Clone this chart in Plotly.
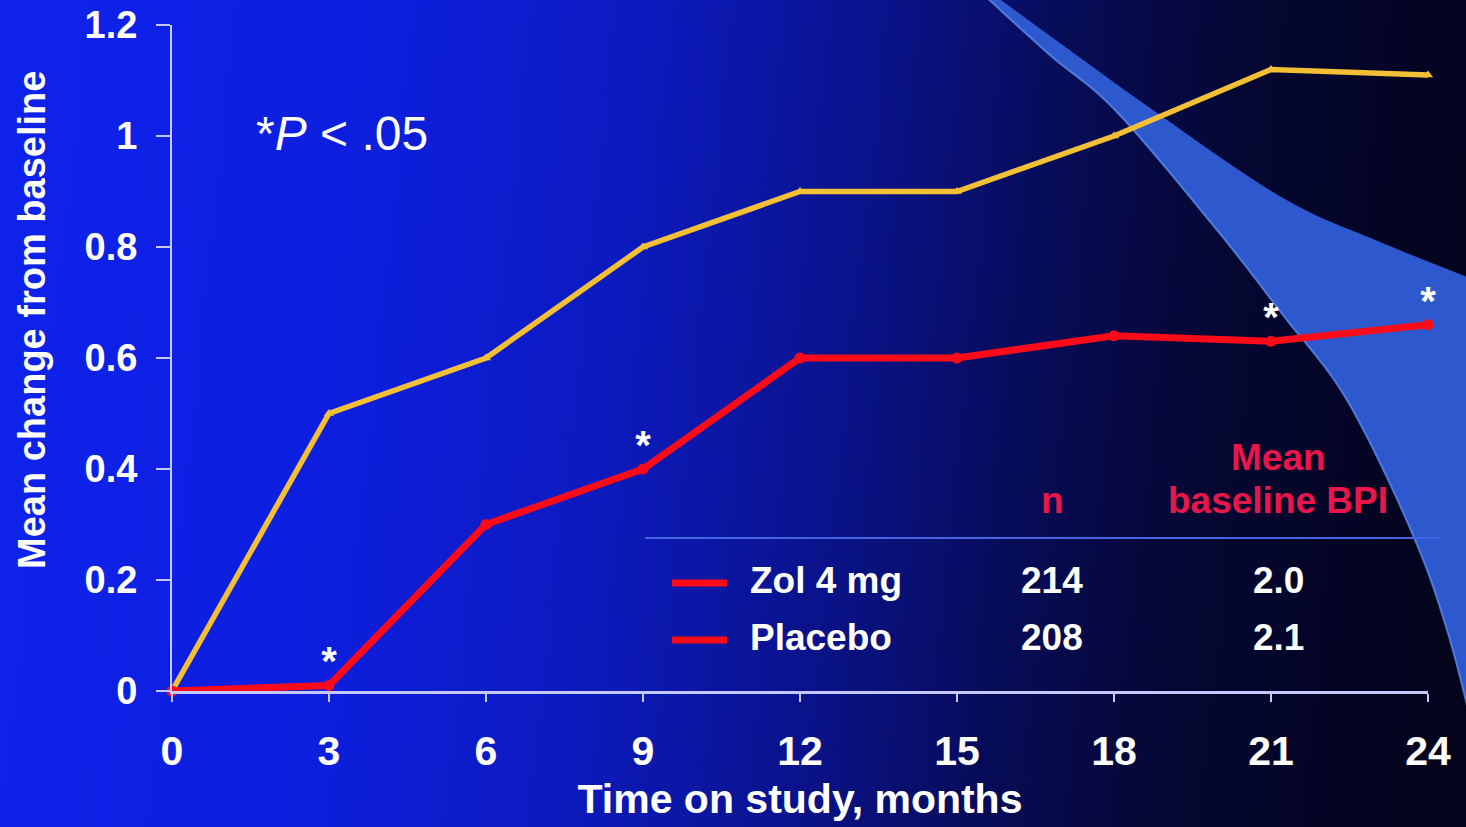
import base64
import struct
import zlib

import plotly.graph_objects as go

# ---- data -----------------------------------------------------------------
months = [0, 3, 6, 9, 12, 15, 18, 21, 24]
zol_4mg = [0.0, 0.01, 0.30, 0.40, 0.60, 0.60, 0.64, 0.63, 0.66]
placebo = [0.0, 0.50, 0.60, 0.80, 0.90, 0.90, 1.00, 1.12, 1.11]
significant_months = [3, 9, 21, 24]

x_ticks = [0, 3, 6, 9, 12, 15, 18, 21, 24]
y_ticks = [0, 0.2, 0.4, 0.6, 0.8, 1.0, 1.2]
y_tick_text = ["0", "0.2", "0.4", "0.6", "0.8", "1", "1.2"]

groups = ["Zol 4 mg", "Placebo"]
group_n = ["214", "208"]
group_bpi = ["2.0", "2.1"]

# ---- canvas geometry ------------------------------------------------------
W, H = 1466, 827
ML, MR, MT, MB = 172, 38, 25, 136
PW, PH = W - ML - MR, H - MT - MB


def px(x):
    """Horizontal pixel -> paper fraction."""
    return (x - ML) / PW


def py(y):
    """Vertical pixel (from top) -> paper fraction."""
    return (H - MB - y) / PH


# ---- background gradient as an inline PNG --------------------------------
def lerp_stops(stops, t):
    t = min(max(t, 0.0), 1.0)
    for (t0, c0), (t1, c1) in zip(stops, stops[1:]):
        if t <= t1:
            f = (t - t0) / (t1 - t0) if t1 > t0 else 0
            return tuple(int(round(a + (b - a) * f)) for a, b in zip(c0, c1))
    return stops[-1][1]


bg_stops = [
    (0.00, (14, 34, 234)),
    (0.25, (13, 30, 220)),
    (0.42, (12, 26, 188)),
    (0.57, (10, 19, 140)),
    (0.70, (7, 12, 88)),
    (0.82, (5, 7, 52)),
    (1.00, (3, 4, 28)),
]


def bg_pixel(u, v):
    return lerp_stops(bg_stops, u + 0.06 * (v - 0.5))


def png_uri(w, h, fn):
    raw = bytearray()
    for j in range(h):
        raw.append(0)
        for i in range(w):
            raw.extend(fn(i / (w - 1), j / (h - 1)))

    def chunk(tag, data):
        return (struct.pack(">I", len(data)) + tag + data
                + struct.pack(">I", zlib.crc32(tag + data) & 0xFFFFFFFF))

    png = (b"\x89PNG\r\n\x1a\n"
           + chunk(b"IHDR", struct.pack(">IIBBBBB", w, h, 8, 2, 0, 0, 0))
           + chunk(b"IDAT", zlib.compress(bytes(raw), 9))
           + chunk(b"IEND", b""))
    return "data:image/png;base64," + base64.b64encode(png).decode()


bg_uri = png_uri(240, 136, bg_pixel)


# ---- decorative swoosh in the upper right --------------------------------
def smooth(points, steps=12):
    """Catmull-Rom through the given outline points."""
    pts = [points[0]] + points + [points[-1]]
    out = []
    for i in range(1, len(pts) - 2):
        p0, p1, p2, p3 = pts[i - 1], pts[i], pts[i + 1], pts[i + 2]
        for s in range(steps):
            t = s / steps
            t2, t3 = t * t, t * t * t
            out.append(tuple(
                0.5 * (2 * p1[k] + (-p0[k] + p2[k]) * t
                       + (2 * p0[k] - 5 * p1[k] + 4 * p2[k] - p3[k]) * t2
                       + (-p0[k] + 3 * p1[k] - 3 * p2[k] + p3[k]) * t3)
                for k in range(2)))
    out.append(points[-1])
    return out


upper_edge = smooth([(994, -5), (1150, 108), (1283, 198), (1380, 242), (1480, 282)])
lower_edge = smooth([(984, -5), (1050, 55), (1117, 112), (1217, 230),
                     (1283, 315), (1347, 400), (1413, 535), (1450, 640),
                     (1480, 760)])
band_pts = upper_edge + list(reversed(lower_edge))
band_path = "M " + " L ".join(f"{px(x):.5f},{py(y):.5f}" for x, y in band_pts) + " Z"
edge_path = "M " + " L ".join(f"{px(x):.5f},{py(y):.5f}" for x, y in lower_edge)

FONT = "Liberation Sans, Arial, sans-serif"
WHITE = "#ffffff"
RED = "#ff0a18"
YELLOW = "#f2bf35"
CRIMSON = "#e8164a"
AXIS = "#c4c8ff"

fig = go.Figure()

fig.add_trace(go.Scatter(
    x=months, y=placebo, mode="lines+markers", name="Placebo",
    line=dict(color=YELLOW, width=5.5),
    marker=dict(color=YELLOW, size=9, symbol="triangle-up"),
    cliponaxis=False, showlegend=False,
))
fig.add_trace(go.Scatter(
    x=months, y=zol_4mg, mode="lines+markers", name="Zol 4 mg",
    line=dict(color=RED, width=7),
    marker=dict(color=RED, size=11),
    cliponaxis=False, showlegend=False,
))

# significance markers above the Zol 4 mg curve
star_y = [zol_4mg[months.index(m)] for m in significant_months]
fig.add_trace(go.Scatter(
    x=significant_months, y=star_y, mode="text", text=["<b>*</b>"] * len(star_y),
    textposition="top center",
    textfont=dict(family=FONT, size=40, color=WHITE),
    cliponaxis=False, showlegend=False, hoverinfo="skip",
))

shapes = [
    dict(type="path", path=band_path, xref="paper", yref="paper",
         fillcolor="rgb(46,88,206)", line=dict(width=0), layer="below"),
    dict(type="path", path=edge_path, xref="paper", yref="paper",
         line=dict(color="rgba(90,140,240,0.8)", width=2), layer="below"),
    # table rule
    dict(type="line", xref="paper", yref="paper",
         x0=px(645), x1=px(1440), y0=py(538), y1=py(538),
         line=dict(color="rgb(70,100,225)", width=2)),
]
annotations = [
    dict(text="*<i>P</i> < .05", x=px(254), y=py(133), xref="paper", yref="paper",
         xanchor="left", yanchor="middle", showarrow=False,
         font=dict(family=FONT, size=48, color=WHITE)),
    dict(text="<b>Mean change from baseline</b>", x=px(32), y=py(320),
         xref="paper", yref="paper", xanchor="center", yanchor="middle",
         textangle=-90, showarrow=False,
         font=dict(family=FONT, size=38, color=WHITE)),
    dict(text="<b>n</b>", x=px(1052), y=py(500), xref="paper", yref="paper",
         xanchor="center", yanchor="middle", showarrow=False,
         font=dict(family=FONT, size=37, color=CRIMSON)),
    dict(text="<b>Mean</b>", x=px(1278), y=py(457), xref="paper", yref="paper",
         xanchor="center", yanchor="middle", showarrow=False,
         font=dict(family=FONT, size=37, color=CRIMSON)),
    dict(text="<b>baseline BPI</b>", x=px(1278), y=py(500), xref="paper", yref="paper",
         xanchor="center", yanchor="middle", showarrow=False,
         font=dict(family=FONT, size=37, color=CRIMSON)),
]

row_y = [580, 637]
for label, n, bpi, ry in zip(groups, group_n, group_bpi, row_y):
    shapes.append(dict(type="line", xref="paper", yref="paper",
                       x0=px(672), x1=px(727), y0=py(ry + 3), y1=py(ry + 3),
                       line=dict(color=RED, width=7)))
    annotations.append(dict(text=f"<b>{label}</b>", x=px(748), y=py(ry),
                            xref="paper", yref="paper", xanchor="left",
                            yanchor="middle", showarrow=False,
                            font=dict(family=FONT, size=37, color=WHITE)))
    annotations.append(dict(text=f"<b>{n}</b>", x=px(1052), y=py(ry),
                            xref="paper", yref="paper", xanchor="center",
                            yanchor="middle", showarrow=False,
                            font=dict(family=FONT, size=37, color=WHITE)))
    annotations.append(dict(text=f"<b>{bpi}</b>", x=px(1278), y=py(ry),
                            xref="paper", yref="paper", xanchor="center",
                            yanchor="middle", showarrow=False,
                            font=dict(family=FONT, size=37, color=WHITE)))

fig.update_layout(
    width=W, height=H,
    margin=dict(l=ML, r=MR, t=MT, b=MB, autoexpand=False),
    paper_bgcolor="rgb(6,10,60)",
    plot_bgcolor="rgba(0,0,0,0)",
    font=dict(family=FONT, color=WHITE),
    showlegend=False,
    images=[dict(source=bg_uri, xref="paper", yref="paper",
                 x=px(0), y=py(0), sizex=W / PW, sizey=H / PH,
                 xanchor="left", yanchor="top", sizing="stretch",
                 layer="below")],
    shapes=shapes,
    annotations=annotations,
)

fig.update_xaxes(
    range=[0, 24], tickvals=x_ticks, ticktext=[f"<b>{v}</b>" for v in x_ticks],
    showgrid=False, zeroline=False,
    showline=True, linecolor=AXIS, linewidth=2.5,
    ticks="outside", ticklen=8, tickwidth=2, tickcolor=AXIS,
    ticklabelstandoff=14,
    tickfont=dict(family=FONT, size=41, color=WHITE),
    title=dict(text="<b>Time on study, months</b>", standoff=12,
               font=dict(family=FONT, size=41, color=WHITE)),
)
fig.update_yaxes(
    range=[0, 1.2], tickvals=y_ticks, ticktext=[f"<b>{t}</b>" for t in y_tick_text],
    showgrid=False, zeroline=False,
    showline=True, linecolor=AXIS, linewidth=2,
    ticks="outside", ticklen=14, tickwidth=2, tickcolor=AXIS,
    ticklabelstandoff=11,
    tickfont=dict(family=FONT, size=38, color=WHITE),
)

fig.write_html("out.html")
